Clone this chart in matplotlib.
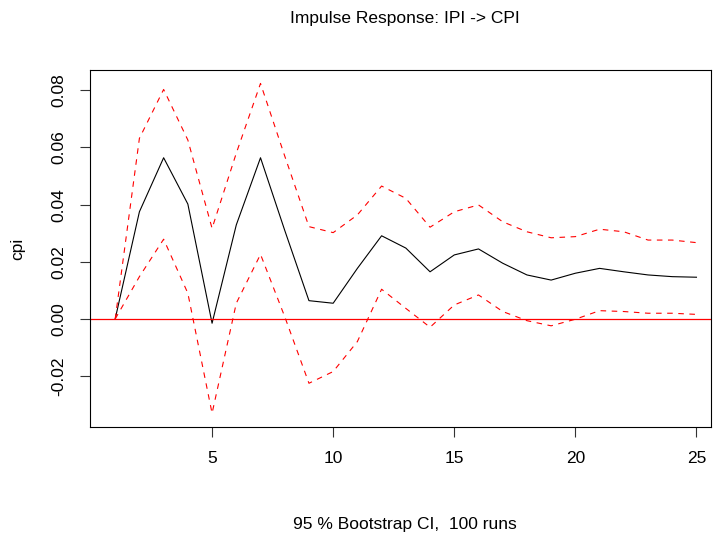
import numpy as np
import matplotlib
matplotlib.use("Agg")
from matplotlib import pyplot as plt

plt.rcParams['font.family'] = ['Liberation Sans', 'DejaVu Sans']

#%% Data
steps = np.arange(1, 26)
irf = [0.0, 0.0375, 0.0564, 0.0402, -0.0015, 0.0329, 0.0564, 0.0310, 0.0064, 0.0055,
       0.0177, 0.0291, 0.0248, 0.0165, 0.0224, 0.0245, 0.0195, 0.0154, 0.0136, 0.0160,
       0.0177, 0.0165, 0.0154, 0.0148, 0.0146]
upper = [0.0, 0.0632, 0.0803, 0.0626, 0.0317, 0.0580, 0.0824, 0.0570, 0.0323, 0.0302,
         0.0364, 0.0465, 0.0422, 0.0321, 0.0375, 0.0399, 0.0340, 0.0305, 0.0284, 0.0288,
         0.0314, 0.0305, 0.0276, 0.0276, 0.0267]
lower = [0.0, 0.0148, 0.0279, 0.0090, -0.0330, 0.0055, 0.0226, 0.0008, -0.0225, -0.0184,
         -0.0079, 0.0104, 0.0037, -0.0029, 0.0049, 0.0084, 0.0026, -0.0006, -0.0024, -0.0001,
         0.0029, 0.0026, 0.0020, 0.0020, 0.0016]
xticks = [5, 10, 15, 20, 25]
yticks = [-0.02, 0.0, 0.02, 0.04, 0.06, 0.08]

#%% Plot
fig = plt.figure(figsize=(7.13, 5.38), dpi=100)
ax = fig.add_axes([90/713, 1-427/538, 621/713, 357/538])

ax.plot(steps, irf, color='black', lw=0.8)
ax.plot(steps, upper, color='red', lw=0.8, dashes=(5, 5))
ax.plot(steps, lower, color='red', lw=0.8, dashes=(5, 5))
ax.axhline(0, color='red', lw=0.9)

ax.set_xlim(-0.04, 25.6)
ax.set_ylim(-0.0378, 0.0871)
ax.set_xticks(xticks)
ax.set_yticks(yticks)
ax.set_yticklabels([f'{v:.2f}' for v in yticks], rotation=90, va='center')
ax.tick_params(direction='out', length=7, width=0.8, labelsize=12.5, pad=10,
               color='#333333')
for s in ax.spines.values():
    s.set_linewidth(0.8)

fig.text(18/713, 1 - 249/538, 'cpi', rotation=90, ha='center', va='center', fontsize=12.5)
fig.text(405/713, 1 - 525/538, '95 % Bootstrap CI,  100 runs',
         ha='center', va='center', fontsize=12.5)
fig.text(405/713, 1 - 18/538, 'Impulse Response: IPI -> CPI', ha='center', va='center',
         fontsize=12.5)

fig.savefig('out.png', dpi=100)
